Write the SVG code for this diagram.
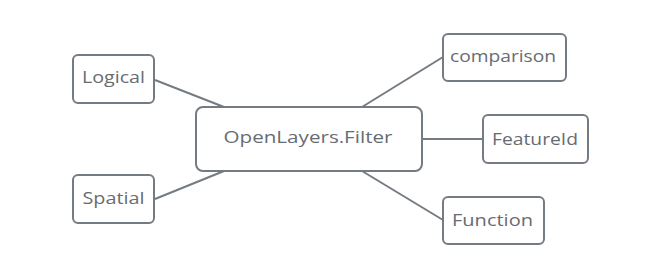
<svg xmlns="http://www.w3.org/2000/svg" width="657" height="258" viewBox="0 0 657 258">
<style>
.box{fill:#ffffff;stroke:#757b83;stroke-width:2;}
.lbl{font-family:"Open Sans","DejaVu Sans",sans-serif;font-size:16px;fill:#676c73;text-anchor:middle;}
.big{font-size:17px;}
.edge{stroke:#757b83;stroke-width:2;fill:none;}
</style>
<rect width="657" height="258" fill="#ffffff"/>
<g id="connectors">
<line class="edge" x1="155" y1="80" x2="224" y2="107"/>
<line class="edge" x1="155" y1="199" x2="224" y2="171"/>
<line class="edge" x1="362" y1="107" x2="443" y2="57"/>
<line class="edge" x1="422" y1="139" x2="483" y2="139"/>
<line class="edge" x1="362" y1="171" x2="443" y2="220"/>
</g>
<g id="center">
<rect class="box" x="196" y="107" width="226" height="64" rx="7"/>
<text class="lbl big" x="308" y="143" textLength="169" lengthAdjust="spacingAndGlyphs">OpenLayers.Filter</text>
</g>
<g id="logical">
<rect class="box" x="73" y="55" width="81" height="48" rx="5"/>
<text class="lbl" x="113.5" y="83" textLength="63" lengthAdjust="spacingAndGlyphs">Logical</text>
</g>
<g id="spatial">
<rect class="box" x="73" y="175" width="81" height="48" rx="5"/>
<text class="lbl" x="113.5" y="204" textLength="62" lengthAdjust="spacingAndGlyphs">Spatial</text>
</g>
<g id="comparison">
<rect class="box" x="443" y="34" width="123" height="47" rx="5"/>
<text class="lbl" x="503" y="62" textLength="106" lengthAdjust="spacingAndGlyphs">comparison</text>
</g>
<g id="featureid">
<rect class="box" x="483" y="115" width="105" height="48" rx="5"/>
<text class="lbl" x="535" y="145" textLength="86" lengthAdjust="spacingAndGlyphs">FeatureId</text>
</g>
<g id="function">
<rect class="box" x="443" y="197" width="101" height="47" rx="5"/>
<text class="lbl" x="492.5" y="226" textLength="81" lengthAdjust="spacingAndGlyphs">Function</text>
</g>
</svg>
